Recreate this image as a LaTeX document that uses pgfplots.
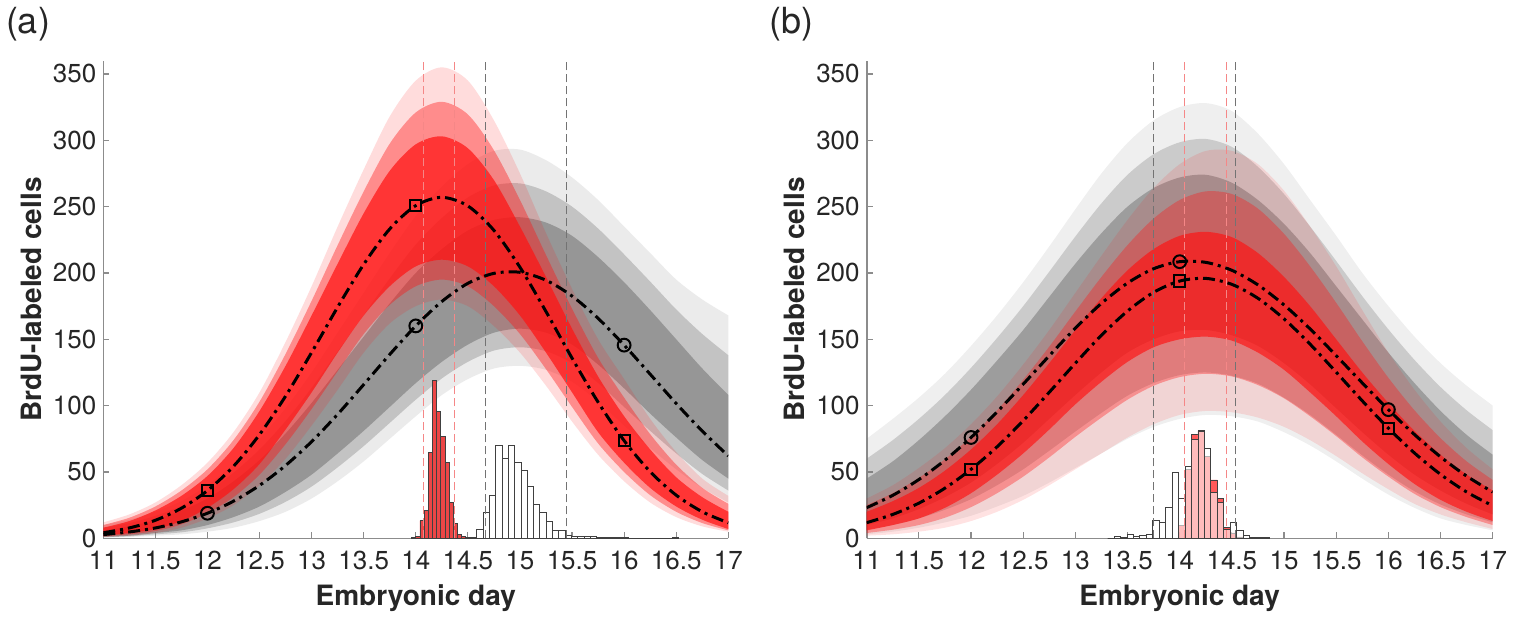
\documentclass[border=0pt]{standalone}
\usepackage{fontspec}
\setmainfont{TeX Gyre Heros}
\usepackage{pgfplots}
\pgfplotsset{compat=1.18}
\usepackage{pgfplotstable}
\usepgfplotslibrary{fillbetween}

\definecolor{mred}{RGB}{255,20,20}
\definecolor{mgray}{RGB}{120,120,120}
\definecolor{histred}{RGB}{236,70,70}
\definecolor{dashred}{RGB}{245,135,135}
\definecolor{dashgray}{RGB}{115,115,115}
\definecolor{axgray}{RGB}{140,140,140}
\definecolor{txt}{RGB}{38,38,38}

% columns: x, mean, outer up/low, inner up/low, dense up/low (r = red, g = gray)
\pgfplotstableread{
x     rm    rou rol riu   ril   rmu rml gm    gou gol giu   gil   gmu gml
11    4.2   12  1   10    1.5   8   2   2.8   10  0.5 8     0.8   6   1
11.25 7.8   18  2   15.5  3     13  4   4.8   14  1   11.5  1.5   9   2
11.5  13.6  27  4   24    5.5   21  7   7.8   20  2   17    3     14  4
11.75 22.7  40  8   36    10.5  32  13  12.4  28  3   24.5  4.5   21  6
12    36.0  57  15  52    19    47  23  18.9  40  5   35    7.5   30  10
12.25 54.3  80  25  74    31    68  37  28.0  56  8   49.5  12    43  16
12.5  78.2  110 40  103   48    96  56  39.9  75  13  67    18.5  59  24
12.75 107.2 148 60  139   71    130 82  54.9  98  20  88.5  27.5  79  35
13    140.1 190 85  179   97.5  168 110 72.9  125 30  113.5 39    102 48
13.25 174.3 235 112 221   126   207 140 93.5  155 43  141   53.5  127 64
13.5  206.5 278 140 261.5 154   245 168 115.9 185 58  168.5 69.5  152 81
13.75 233.2 318 162 297.5 176   277 190 138.6 215 75  196   87    177 99
14    250.8 345 175 321   190   297 205 160.1 243 92  221.5 104.5 200 117
14.25 257.0 355 180 329   195   303 210 178.5 265 108 241.5 120.5 218 133
14.5  250.5 345 175 319.5 190   294 205 192.2 282 120 257   133   232 146
14.75 232.1 315 160 292.5 175   270 190 199.7 292 128 266   141.5 240 155
15    204.3 275 140 255   154   235 168 200.5 293 130 267.5 144   242 158
15.25 170.9 230 115 213.5 127.5 197 140 194.5 285 127 261.5 141   238 155
15.5  135.8 188 88  173   99    158 110 182.6 272 118 250   132   228 146
15.75 102.6 150 63  136   71.5  122 80  165.8 255 103 233.5 117   212 131
16    73.6  120 43  106   50    92  57  145.6 235 85  214   99    193 113
16.25 50.2  90  27  78.5  32.5  67  38  123.7 215 68  193.5 81    172 94
16.5  32.5  65  16  55.5  20    46  24  101.6 195 52  172.5 64    150 76
16.75 20.0  45  9   38    11.5  31  14  80.8  180 38  154   48.5  128 59
17    11.7  32  5   26    6     20  7   62.1  168 27  138   36    108 45
}\ta

\pgfplotstableread{
x     rm    rou rol riu   ril   rmu rml gm    gou gol giu   gil   gmu gml
11    11.8  30  2   25    4     20  6   23.1  75  3   60    6.5   45  10
11.25 18.0  40  3   34    6.5   28  10  32.4  90  5   74    10    58  15
11.5  26.5  53  5   45.5  10    38  15  44.3  106 8   90    15    74  22
11.75 37.8  68  8   59.5  15.5  51  23  58.9  124 12  108   21.5  92  31
12    52.0  86  13  76.5  23.5  67  34  76.0  145 17  128.5 29.5  112 42
12.25 69.0  107 20  96.5  34    86  48  95.3  168 24  151   40    134 56
12.5  88.7  131 29  119.5 46.5  108 64  116.2 193 32  175   52    157 72
12.75 110.1 157 40  144.5 61    132 82  137.6 220 42  201   66    182 90
13    132.0 185 52  171   76.5  157 101 158.4 248 53  227.5 80.5  207 108
13.25 153.0 213 64  197   91    181 118 177.1 275 64  252.5 94.5  230 125
13.5  171.3 240 76  221   104.5 202 133 192.4 298 75  274   107.5 250 140
13.75 185.4 264 86  241   115   218 144 203.2 315 84  289.5 117   264 150
14    193.9 282 93  255   121.5 228 150 208.5 325 90  298.5 123   272 156
14.25 195.9 292 96  261.5 124   231 152 208.0 328 93  301   125   274 157
14.5  191.4 292 95  259.5 122   227 149 202.0 322 92  295   122.5 268 153
14.75 180.9 282 91  248.5 115.5 215 140 191.0 305 88  280   116.5 255 145
15    165.4 262 84  229.5 105.5 197 127 175.9 282 80  259.5 106   237 132
15.25 146.3 235 74  205   92    175 110 157.8 255 70  235   93    215 116
15.5  125.2 205 62  177.5 77    150 92  137.7 228 58  209   78    190 98
15.75 103.6 172 49  148.5 61    125 73  117.1 200 45  182.5 62.5  165 80
16    83.0  140 37  121   46.5  102 56  97.0  175 33  157.5 48    140 63
16.25 64.3  112 26  96.5  33.5  81  41  78.2  152 23  134.5 35.5  117 48
16.5  48.2  88  18  75.5  23.5  63  29  61.4  132 15  114   25.5  96  36
16.75 34.9  68  12  58    16    48  20  46.9  115 10  96.5  18    78  26
17    24.5  52  7   44    10    36  13  34.9  100 6   81.5  12    63  18
}\tb

\pgfplotsset{
  panel/.style={
    scale only axis, width=312.5pt, height=238.8pt,
    xmin=11, xmax=17, ymin=0, ymax=360,
    axis x line*=bottom, axis y line*=left,
    axis line style={axgray, line width=0.8pt, -},
    tick align=inside, major tick length=3pt,
    tick style={axgray, line width=0.6pt},
    xtick={11,11.5,12,12.5,13,13.5,14,14.5,15,15.5,16,16.5,17},
    ytick={0,50,100,150,200,250,300,350},
    /pgf/number format/assume math mode=true,
    /pgf/number format/fixed,
    ticklabel style={font=\fontsize{13}{15}\selectfont, text=txt},
    xticklabel shift=3pt,
    xlabel={Embryonic day}, ylabel={BrdU-labeled cells},
    every axis x label/.style={at={(axis description cs:0.5,-0.125)}, anchor=center,
      font=\bfseries\fontsize{14}{16}\selectfont, text=txt},
    every axis y label/.style={at={(axis description cs:-0.1157,0.5)}, anchor=center, rotate=90,
      font=\bfseries\fontsize{14}{16}\selectfont, text=txt},
  },
  env/.style={draw=none, forget plot, smooth},
  meanline/.style={black, line width=1.5pt, smooth, dash pattern=on 6pt off 2.5pt on 1.5pt off 2.5pt},
  mk/.style={only marks, mark size=3.2pt, mark options={solid, black, line width=1pt, fill=none}},
  vdash/.style={line width=0.5pt, dash pattern=on 4pt off 2pt},
}

% three nested bands for one group: #1 table, #2 prefix (r or g), #3 colour, #4 #5 #6 opacities
\newcommand{\bundle}[6]{%
  \addplot[env, name path=#2ou] table[x=x, y=#2ou]{#1};
  \addplot[env, name path=#2ol] table[x=x, y=#2ol]{#1};
  \addplot[env, name path=#2iu] table[x=x, y=#2iu]{#1};
  \addplot[env, name path=#2il] table[x=x, y=#2il]{#1};
  \addplot[env, name path=#2mu] table[x=x, y=#2mu]{#1};
  \addplot[env, name path=#2ml] table[x=x, y=#2ml]{#1};
  \addplot[fill=#3, fill opacity=#4] fill between[of=#2ou and #2ol];
  \addplot[fill=#3, fill opacity=#5] fill between[of=#2iu and #2il];
  \addplot[fill=#3, fill opacity=#6] fill between[of=#2mu and #2ml];
}

\begin{document}
\begin{tikzpicture}

% ---------------- panel (a)
\begin{axis}[panel, at={(51.65pt,41.35pt)}, anchor=south west]
\bundle{\ta}{g}{mgray}{0.15}{0.35}{0.6}
\bundle{\ta}{r}{mred}{0.15}{0.4}{0.72}

\addplot[ybar interval, fill=histred, draw=black!75, line width=0.4pt] coordinates {
(13.96,0.5) (14.00,1.5) (14.04,13.3) (14.08,21.3) (14.12,64.5) (14.16,118.8)
(14.20,95.4) (14.24,76.6) (14.28,57) (14.32,27) (14.36,11) (14.40,3)
(14.44,1.2) (14.48,0.5) (14.52,0)};
\addplot[ybar interval, fill=white, draw=black!75, line width=0.4pt] coordinates {
(14.524,1) (14.585,6.8) (14.645,19.8) (14.706,32.4) (14.766,70.3) (14.827,60.5)
(14.888,70.3) (14.948,57.5) (15.009,51) (15.069,39.4) (15.130,25.9) (15.191,19.6)
(15.251,12.5) (15.312,6.3) (15.372,5.7) (15.433,2.5) (15.494,1.7) (15.554,1.5)
(15.615,1.2) (15.675,1.2) (15.736,0.8) (15.797,0.8) (15.857,0.5) (15.918,0.5)
(15.978,0.4) (16.039,0.3) (16.100,0.3) (16.160,0.3) (16.221,0.3) (16.281,0.3)
(16.342,0.3) (16.403,0.3) (16.463,0.6) (16.524,0)};

\addplot[vdash, dashred] coordinates {(14.072,0) (14.072,360)};
\addplot[vdash, dashred] coordinates {(14.373,0) (14.373,360)};
\addplot[vdash, dashgray] coordinates {(14.667,0) (14.667,360)};
\addplot[vdash, dashgray] coordinates {(15.442,0) (15.442,360)};

\addplot[meanline] table[x=x, y=gm]{\ta};
\addplot[meanline] table[x=x, y=rm]{\ta};
\addplot[mk, mark=o] coordinates {(12,18.9) (14,160.1) (16,145.6)};
\addplot[mk, mark=square, mark size=2.8pt] coordinates {(12,36.0) (14,250.8) (16,73.6)};
\end{axis}

% ---------------- panel (b)
\begin{axis}[panel, at={(433.35pt,41.35pt)}, anchor=south west, width=313pt]
\bundle{\tb}{g}{mgray}{0.12}{0.3}{0.55}
\bundle{\tb}{r}{mred}{0.12}{0.35}{0.68}

\addplot[ybar interval, fill=mred, fill opacity=0.7, draw=black!75, line width=0.4pt] coordinates {
(13.927,0) (13.989,10) (14.051,52) (14.113,78.6) (14.175,81) (14.236,62)
(14.298,44) (14.360,30) (14.422,8) (14.484,4) (14.545,1) (14.607,0)};
\addplot[ybar interval, fill=white, fill opacity=0.6, draw=black!75, line width=0.4pt] coordinates {
(13.309,0) (13.371,1.2) (13.433,0.5) (13.495,3) (13.556,1.4) (13.618,2)
(13.680,3.3) (13.742,13.8) (13.804,12.2) (13.866,23.4) (13.927,49.5) (13.989,30.4)
(14.051,54.5) (14.113,74.8) (14.175,80.4) (14.236,67.8) (14.298,34.5) (14.360,26.8)
(14.422,6.5) (14.484,12) (14.545,5.7) (14.607,2.5) (14.669,0.8) (14.731,0.5)
(14.793,0.5) (14.855,0)};

\addplot[vdash, dashgray] coordinates {(13.748,0) (13.748,360)};
\addplot[vdash, dashred] coordinates {(14.045,0) (14.045,360)};
\addplot[vdash, dashred] coordinates {(14.45,0) (14.45,360)};
\addplot[vdash, dashgray] coordinates {(14.53,0) (14.53,360)};

\addplot[meanline] table[x=x, y=gm]{\tb};
\addplot[meanline] table[x=x, y=rm]{\tb};
\addplot[mk, mark=o] coordinates {(12,76.0) (14,208.5) (16,97.0)};
\addplot[mk, mark=square, mark size=2.8pt] coordinates {(12,52.0) (14,193.9) (16,83.0)};
\end{axis}

\node[font=\fontsize{18}{20}\selectfont, text=txt] at (14pt,298.5pt) {(a)};
\node[font=\fontsize{18}{20}\selectfont, text=txt] at (395.75pt,298.5pt) {(b)};
\pgfresetboundingbox
\useasboundingbox (0,0) rectangle (756.5pt,310.5pt);
\end{tikzpicture}
\end{document}
